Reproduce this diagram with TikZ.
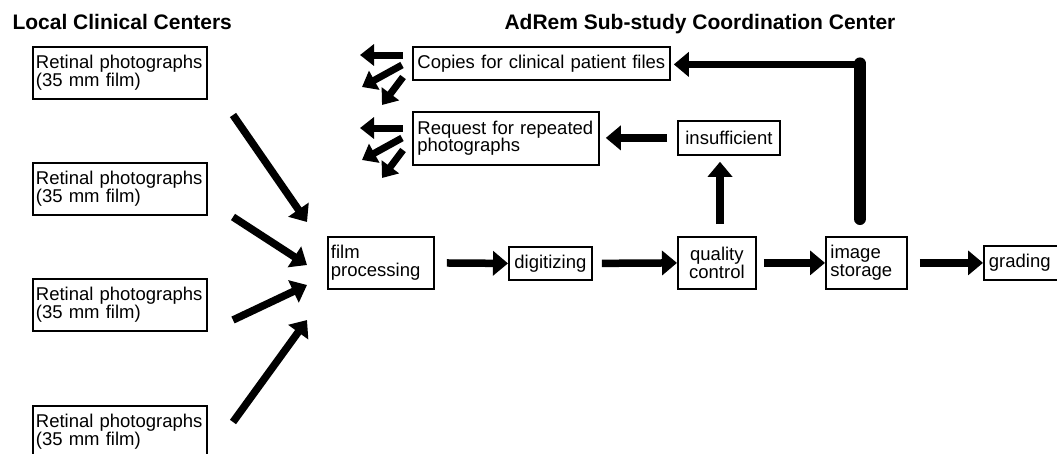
\documentclass[tikz,border=0pt]{standalone}
\usepackage{fontspec}
\setmainfont{Liberation Sans}
\usetikzlibrary{arrows.meta,calc}

\newcommand\boxfont{\fontsize{18.5}{17.5}\selectfont\hyphenpenalty=10000\relax}

\tikzset{
  box/.style={draw, line width=1.8pt, anchor=north west, inner xsep=3pt, inner ysep=0pt,
    align=left, font=\boxfont},
  fat/.style={line width=7.5pt, -{Triangle[length=15pt,width=24pt]}},
  thin/.style={line width=7pt, -{Triangle[length=14pt,width=21pt]}},
  head/.style={anchor=base west, font=\bfseries\fontsize{21}{24}\selectfont}
}

\begin{document}
\begin{tikzpicture}[x=1pt,y=-1pt]

            \clip (0,0) rectangle (1057,453);
            \fill[white] (0,0) rectangle (1057,453);

            % headings
            \node[head] (lcc) at (9,29) {Local Clinical Centers};
            \node[head] (arc) at (501,29) {AdRem Sub-study Coordination Center};

            % local clinical centers
            \node[box, text width=168pt, minimum height=52pt] (ret1) at (32,46) {Retinal photographs\\(35 mm film)};
            \node[box, text width=168pt, minimum height=52pt] (ret2) at (32,162) {Retinal photographs\\(35 mm film)};
            \node[box, text width=168pt, minimum height=52pt] (ret3) at (32,278) {Retinal photographs\\(35 mm film)};
            \node[box, text width=168pt, minimum height=52pt] (ret4) at (32,405) {Retinal photographs\\(35 mm film)};

            % coordination center
            \node[box, inner xsep=4.5pt, text width=248pt, minimum height=33pt] (copies) at (412,46) {Copies for clinical patient files};
            \node[box, inner xsep=4.5pt, text width=177pt, minimum height=53pt] (req) at (412,111) {Request for repeated\\photographs};
            \node[box, text width=96pt, minimum height=34pt, align=center] (ins) at (677,120) {insufficient};

            \node[box, text width=100pt, minimum height=52pt] (film) at (327,236) {film\\processing};
            \node[box, text width=77pt, minimum height=33pt, align=center] (dig) at (508,246) {digitizing};
            \node[box, text width=72pt, minimum height=52pt, align=center] (qc) at (677,236) {quality\\control};
            \node[box, inner xsep=4.5pt, text width=72pt, minimum height=52pt] (img) at (825,236) {image\\storage};
            \node[box, inner xsep=5pt, text width=90pt, minimum height=34pt] (grad) at (983,245) {grading};

            % arrows into film processing
            \coordinate (a1) at (233,115);
            \coordinate (b1) at (307,222);
            \coordinate (a2) at (233,217);
            \coordinate (b2) at (307,265);
            \coordinate (a3) at (233,320);
            \coordinate (b3) at (307,285);
            \coordinate (a4) at (233,422);
            \coordinate (b4) at (307,320);
            \foreach \i in {1,2,3,4}
              \draw[fat] (a\i) -- (b\i);

            % main row
            \draw[fat, shorten <=12pt] (film.east) -- (dig.west);
            \draw[fat, shorten <=9pt] (dig.east) -- (qc.west);
            \draw[fat, shorten <=7pt] (qc.east) -- (img.west);
            \draw[fat, shorten <=12pt] (img.east) -- (img.east -| grad.west);

            % insufficient
            \coordinate (qup) at (720,224);
            \draw[fat, shorten >=6pt] (qup) -- (qup |- ins.south);
            \draw[fat, shorten <=10pt, shorten >=6pt] (ins.west) -- (ins.west -| req.east);

            % storage back to copies
            \coordinate (sbot) at (860,219);
            \draw[line width=12pt, line cap=round] (sbot) -- (sbot |- copies.east);
            \draw[fat, shorten >=3pt] ($(sbot |- copies.east)+(4,1)$) -- ($(copies.east)+(0,1)$);

            % distribution arrows
            \foreach \b/\y in {copies/55, req/128} {
              \coordinate (t\b) at (403,\y);
              \draw[thin] (t\b) -- ++(-43,0);
              \draw[thin] ($(t\b)+(-1,10)$) -- ++(-40,22);
              \draw[thin] ($(t\b)+(0,22)$) -- ++(-21,28);
            }

        \end{tikzpicture}
\end{document}
